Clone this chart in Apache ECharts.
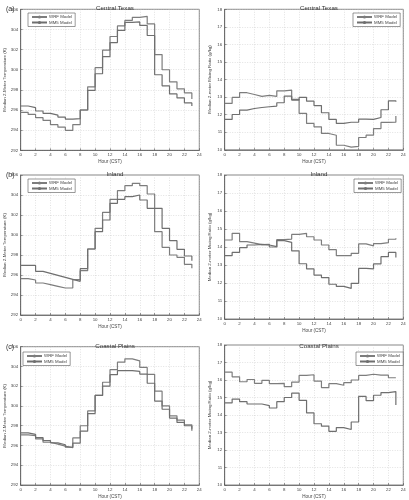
<!DOCTYPE html>
<html><head><meta charset="utf-8">
<script src="https://cdn.jsdelivr.net/npm/echarts@6/dist/echarts.min.js"></script>
<style>html,body{margin:0;padding:0;background:#fff}#c{width:409px;height:500px}</style>
</head><body><div id="c"></div>
<script>
// ---------- data ----------
const hours = [0,1,2,3,4,5,6,7,8,9,10,11,12,13,14,15,16,17,18,19,20,21,22,23];
const hourTicks = [0,2,4,6,8,10,12,14,16,18,20,22,24];
const tempTicks = [292,294,296,298,300,302,304,306];
const mixTicks = [10,11,12,13,14,15,16,17,18];
const panelTitles = ['Central Texas','Inland','Coastal Plains'];
const panelLetters = ['(a)','(b)','(c)'];
const seriesNames = ['WRF Model','MM5 Model'];
const tempAxisName = 'Median 2-Meter Temperature (K)';
const mixAxisName = 'Median 2-meter Mixing Ratio (g/kg)';
const xAxisName = 'Hour (CST)';

// Central Texas
const ctTempWRF = [295.77,295.56,295.24,294.97,294.54,294.3,293.98,294.55,296.0,298.3,300.2,301.95,303.3,304.35,304.9,305.2,305.3,304.55,301.5,300.0,298.8,298.1,297.7,297.1];
const ctTempMM5 = [296.4,296.23,295.9,295.67,295.5,295.3,295.1,295.15,296.0,297.95,299.6,301.3,302.7,303.9,304.7,304.75,304.4,303.4,299.5,298.4,297.6,297.2,296.7,296.4];
const ctMixWRF = [12.64,12.98,13.25,13.15,13.04,13.1,13.04,13.36,13.4,12.87,12.07,11.5,11.31,10.93,10.83,10.26,10.15,10.2,10.7,10.83,11.21,11.56,11.57,11.92];
const ctMixMM5 = [11.73,12.01,12.26,12.35,12.41,12.45,12.49,12.68,13.06,12.83,12.98,12.77,12.52,12.11,11.73,11.5,11.57,11.57,11.75,11.73,11.84,12.28,12.79,12.73];
// Inland
const inTempWRF = [295.63,295.5,295.2,295.04,294.87,294.7,294.7,295.53,296.43,298.6,300.67,302.27,303.57,304.43,304.93,305.17,304.93,304.1,300.33,298.77,298.0,297.77,297.07,296.67];
const inTempMM5 = [296.96,296.96,296.37,296.17,295.97,295.77,295.57,295.37,296.63,298.6,300.33,301.5,303.17,303.57,303.83,304.0,303.5,302.67,302.67,300.67,299.43,298.57,297.9,297.43];
const inMixWRF = [14.39,14.76,14.3,14.22,14.13,14.15,14.0,14.41,14.44,14.7,14.76,14.57,14.39,14.11,13.85,13.52,13.52,13.65,14.17,14.06,14.19,14.24,14.43,14.48];
const inMixMM5 = [13.52,13.7,13.96,14.11,14.15,14.11,14.02,14.35,14.26,13.78,13.07,12.78,12.44,12.3,11.93,11.81,11.7,11.98,12.81,12.78,13.06,13.46,13.7,13.41];
// Coastal Plains
const cpTempWRF = [297.07,297.0,296.67,296.33,296.13,295.93,295.77,296.77,298.0,299.5,301.07,302.4,303.67,304.43,304.77,304.57,303.9,303.2,301.5,300.0,299.0,298.57,298.1,297.7];
const cpTempMM5 = [297.27,297.13,296.8,296.5,296.27,296.07,295.83,296.23,297.45,299.23,301.07,302.0,303.17,303.57,303.57,303.5,303.23,302.3,300.5,299.67,298.77,298.33,298.0,297.5];
const cpMixWRF = [16.45,16.18,15.9,16.03,15.81,15.98,15.79,15.81,15.62,15.88,16.26,16.3,15.94,15.57,15.79,15.7,15.85,16.0,16.26,16.33,16.28,16.28,16.13,16.11];
const cpMixMM5 = [14.69,14.91,14.76,14.63,14.63,14.54,14.4,14.76,15.0,15.25,14.84,14.12,13.5,13.36,13.07,13.28,13.17,13.6,15.06,14.82,15.13,15.28,15.34,14.57];

// ---------- layout ----------
const panels = [
  {row:0, kind:'temp', data:[ctTempWRF, ctTempMM5], box:{left:20.7, top:9.3, width:178.6, height:141}},
  {row:0, kind:'mix',  data:[ctMixWRF, ctMixMM5],   box:{left:224.7, top:9.3, width:178.6, height:140.5}},
  {row:1, kind:'temp', data:[inTempWRF, inTempMM5], box:{left:20.7, top:175, width:178.6, height:140}},
  {row:1, kind:'mix',  data:[inMixWRF, inMixMM5],   box:{left:224.7, top:175, width:178.6, height:144}},
  {row:2, kind:'temp', data:[cpTempWRF, cpTempMM5], box:{left:20.7, top:346.7, width:178.6, height:140}},
  {row:2, kind:'mix',  data:[cpMixWRF, cpMixMM5],   box:{left:224.7, top:345, width:178.6, height:142}}
];
const FONT = 'Liberation Sans, Arial, sans-serif';
const lineColors = ['#7d7d7d','#6f6f6f'];
const axisCol = '#555';

const grids = [], xAxes = [], yAxes = [], series = [], legends = [], titles = [];
panels.forEach((p, i) => {
  grids.push({left:p.box.left, top:p.box.top, width:p.box.width, height:p.box.height,
    show:true, borderColor:axisCol, borderWidth:0.7, backgroundColor:'#fff'});
  xAxes.push({type:'value', gridIndex:i, min:hourTicks[0], max:hourTicks[hourTicks.length-1],
    interval:hourTicks[1]-hourTicks[0],
    name:xAxisName, nameLocation:'middle', nameGap:9,
    nameTextStyle:{fontSize:4.6, color:'#444', fontFamily:FONT},
    axisLine:{show:true, lineStyle:{color:axisCol, width:0.7}},
    axisTick:{show:true, inside:true, length:2, lineStyle:{color:axisCol, width:0.6}},
    axisLabel:{fontSize:4.4, color:'#444', margin:2.5, fontFamily:FONT},
    splitLine:{show:true, lineStyle:{color:'#c4c4c4', width:0.5, type:[1,1.5]}}});
  const ticks = p.kind === 'temp' ? tempTicks : mixTicks;
  yAxes.push({type:'value', gridIndex:i, min:ticks[0], max:ticks[ticks.length-1],
    interval:ticks[1]-ticks[0],
    name:p.kind === 'temp' ? tempAxisName : mixAxisName, nameLocation:'middle', nameGap:13,
    nameTextStyle:{fontSize:4.4, color:'#444', fontFamily:FONT},
    axisLine:{show:true, lineStyle:{color:axisCol, width:0.7}},
    axisTick:{show:true, inside:true, length:2, lineStyle:{color:axisCol, width:0.6}},
    axisLabel:{fontSize:4.4, color:'#444', margin:2.5, fontFamily:FONT},
    splitLine:{show:true, lineStyle:{color:'#c4c4c4', width:0.5, type:[1,1.5]}}});
  p.data.forEach((vals, k) => {
    series.push({type:'line', name:seriesNames[k], xAxisIndex:i, yAxisIndex:i,
      step:'end', symbol:'none', animation:false,
      lineStyle:{color:lineColors[k], width:1.2}, itemStyle:{color:lineColors[k]},
      data:hours.map((h, j) => [h, vals[j]])});
  });
  const isLeft = p.kind === 'temp';
  const legTop = [13, 179, 352][p.row];
  const leg = {show:true, orient:'vertical', data:seriesNames.slice(),
    top:legTop, itemWidth:15, itemHeight:4, itemGap:1.5, padding:[2,3,2,3],
    borderColor:'#555', borderWidth:0.6, backgroundColor:'#fff',
    textStyle:{fontSize:4.4, color:'#444', fontFamily:FONT, padding:[0,0,0,-3]},
    selectedMode:false};
  if (isLeft) leg.left = [28, 28, 23][p.row]; else leg.left = [353, 354, 356][p.row];
  legends.push(leg);
  titles.push({text:panelTitles[p.row], left:p.box.left + p.box.width/2, textAlign:'center',
    top:[0.5, 166.5, 338][p.row],
    textStyle:{fontSize:6.2, fontWeight:'normal', color:'#333', fontFamily:FONT}});
});
panelLetters.forEach((t, r) => {
  titles.push({text:t, left:1, top:[1, 167, 339][r],
    textStyle:{fontSize:7, fontWeight:'normal', color:'#333', fontFamily:FONT}});
});

const chart = echarts.init(document.getElementById('c'), null, {renderer:'canvas'});
chart.setOption({animation:false, backgroundColor:'#fff', title:titles, legend:legends,
  grid:grids, xAxis:xAxes, yAxis:yAxes, series:series});
</script></body></html>
